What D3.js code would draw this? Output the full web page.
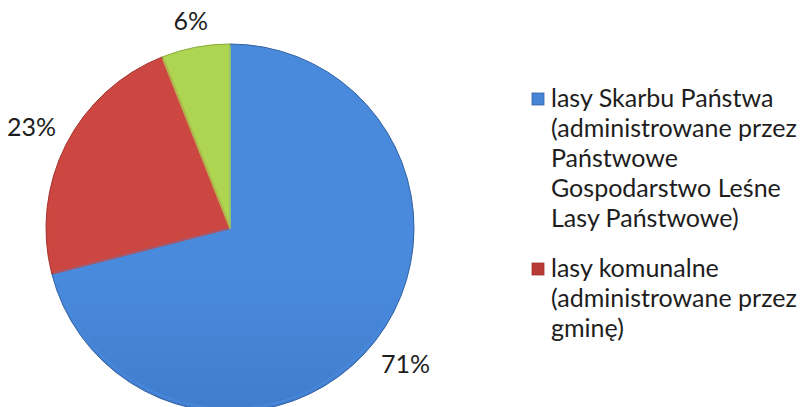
<!DOCTYPE html>
<html lang="pl">
<head>
<meta charset="utf-8">
<title>Lasy - struktura własności</title>
<script src="https://d3js.org/d3.v7.min.js"></script>
<style>
  body { margin: 0; background: #fff; }
  text { font-family: Lato, "Open Sans", sans-serif; fill: #1e1e1e; }
</style>
</head>
<body>
<svg id="chart" width="801" height="407"></svg>
<script>
// data
var categories = ["lasy Skarbu Państwa", "lasy komunalne", "pozostałe"];
var values = [71, 23, 6];
var labels = ["71%", "23%", "6%"];
var legendLines = [
  ["lasy Skarbu Państwa", "(administrowane przez", "Państwowe", "Gospodarstwo Leśne", "Lasy Państwowe)"],
  ["lasy komunalne", "(administrowane przez", "gminę)"]
];
var colors = ["#3e7acb", "#c03e3a", "#a0c845"];
var lightColors = ["#4a8adc", "#cd4742", "#aed552"];
var darkColors = ["#3260a2", "#a3322e", "#86a935"];

var svg = d3.select("#chart");
var cx = 230, cy = 228, r = 184;

// vertical shading, light on top, darker at bottom
var defs = svg.append("defs");
colors.forEach(function(c, i) {
  var g = defs.append("linearGradient")
    .attr("id", "grad" + i)
    .attr("gradientUnits", "userSpaceOnUse")
    .attr("x1", 0).attr("y1", cy - r)
    .attr("x2", 0).attr("y2", cy + r);
  g.append("stop").attr("offset", "0%").attr("stop-color", lightColors[i]);
  g.append("stop").attr("offset", "45%").attr("stop-color", c);
  g.append("stop").attr("offset", "100%").attr("stop-color", darkColors[i]);
});

var pie = d3.pie().sort(null).value(function(d) { return d; });
var arcs = pie(values);
var arc = d3.arc().innerRadius(0).outerRadius(r);
var innerArc = d3.arc().innerRadius(0).outerRadius(r - 3);
var anchorArc = d3.arc().innerRadius(r + 12).outerRadius(r + 12);

var g = svg.append("g").attr("transform", "translate(" + cx + "," + cy + ")");

g.selectAll(".slice")
  .data(arcs)
  .enter().append("path")
    .attr("class", "slice")
    .attr("d", arc)
    .attr("fill", function(d, i) { return "url(#grad" + i + ")"; })
    .attr("stroke", function(d, i) { return darkColors[i]; })
    .attr("stroke-width", 1);

// bevel highlight
g.selectAll(".bevel")
  .data(arcs)
  .enter().append("path")
    .attr("class", "bevel")
    .attr("d", innerArc)
    .attr("fill", "none")
    .attr("stroke", function(d, i) { return lightColors[i]; })
    .attr("stroke-opacity", 0.7)
    .attr("stroke-width", 2)
    .attr("stroke-linejoin", "round");

// labels placed outside, pushed out by half their box
var lbl = g.selectAll(".lbl")
  .data(arcs)
  .enter().append("text")
    .attr("class", "lbl")
    .attr("text-anchor", "middle")
    .attr("dy", "0.35em")
    .style("font-size", "25px")
    .text(function(d, i) { return labels[i]; });

lbl.attr("transform", function(d) {
  var c = anchorArc.centroid(d);
  var a = (d.startAngle + d.endAngle) / 2;
  var sx = Math.sin(a), sy = -Math.cos(a);
  var hw = this.getComputedTextLength() / 2, hh = 11;
  var off = Math.abs(sx) * hw + Math.abs(sy) * hh;
  return "translate(" + (c[0] + sx * off) + "," + (c[1] + sy * off) + ")";
});

// legend (only the first two entries are visible)
var legend = svg.append("g").attr("class", "legend");
var fontSize = 24;
var y0 = 107, lineH = 30, gap = 20;
var y = y0;
legendLines.forEach(function(lines, i) {
  legend.append("rect")
    .attr("x", 532).attr("y", y - 14)
    .attr("width", 12).attr("height", 12)
    .attr("fill", "url(#grad" + i + ")")
    .attr("stroke", darkColors[i]).attr("stroke-width", 0.8);
  lines.forEach(function(t, j) {
    legend.append("text")
      .attr("class", "leg")
      .attr("x", 551).attr("y", y + j * lineH)
      .style("font-size", fontSize + "px")
      .text(t);
  });
  y += lines.length * lineH + gap;
});

// fit legend width to reference: "(administrowane przez" ~246px
var probe = legend.selectAll(".leg").filter(function(d, i) { return i === 1; }).node();
var w = probe.getComputedTextLength();
var fs = fontSize * 246 / w;
legend.selectAll(".leg").style("font-size", fs + "px");
</script>
</body>
</html>
